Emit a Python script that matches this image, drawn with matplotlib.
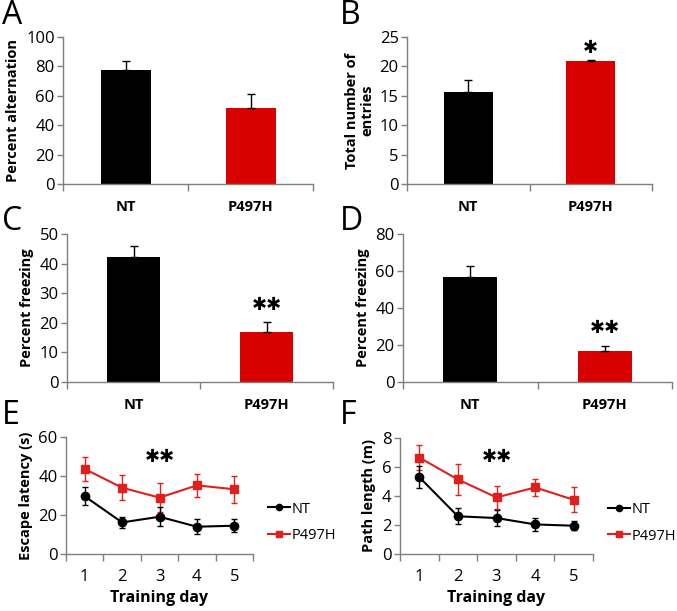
import matplotlib
matplotlib.use("Agg")
import matplotlib.pyplot as plt
from matplotlib.lines import Line2D
import numpy as np

plt.rcParams['font.family'] = ['Open Sans', 'DejaVu Sans']

groups = ["NT", "P497H"]

# Panel A
alt_mean = [77.5, 52.0]
alt_err = [6.0, 9.5]
# Panel B
entries_mean = [15.7, 20.9]
entries_err = [2.0, 0.2]
# Panel C
freeze_c_mean = [42.3, 17.0]
freeze_c_err = [3.6, 3.3]
# Panel D
freeze_d_mean = [57.0, 16.5]
freeze_d_err = [5.5, 3.2]

days = [1, 2, 3, 4, 5]
# Panel E
lat_nt = [29.6, 16.2, 19.1, 14.0, 14.5]
lat_nt_err = [4.6, 3.0, 4.8, 3.8, 3.3]
lat_p = [43.6, 34.0, 28.9, 35.2, 33.2]
lat_p_err = [6.0, 6.3, 7.5, 6.0, 6.8]
# Panel F
path_nt = [5.3, 2.6, 2.48, 2.04, 1.95]
path_nt_err = [0.75, 0.55, 0.55, 0.45, 0.3]
path_p = [6.65, 5.14, 3.9, 4.59, 3.74]
path_p_err = [0.85, 1.1, 0.8, 0.57, 0.85]

BLACK = '#000000'
RED = '#d90000'
LRED = '#e0201e'
SPINE = '#7f7f7f'

W, H = 677, 611
fig = plt.figure(figsize=(W / 100, H / 100), dpi=100)
PX = 0.72  # points per pixel at dpi 100


def rect(l, r, top, bot):
    return [l / W, 1 - bot / H, (r - l) / W, (bot - top) / H]


def style(ax):
    for s in ['top', 'right']:
        ax.spines[s].set_visible(False)
    for s in ['left', 'bottom']:
        ax.spines[s].set_color(SPINE)
        ax.spines[s].set_linewidth(1.0)
    ax.tick_params(axis='both', direction='out', color=SPINE, length=4, width=1.0,
                   labelsize=12, pad=2)


def below(ax, x, px, s, **kw):
    ax.annotate(s, xy=(x, 0), xycoords=('data', 'axes fraction'),
                xytext=(0, -px * PX), textcoords='offset points',
                ha='center', va='center', **kw)


def stars(ax, x, y, n):
    ax.text(x, y, '\u2731' * n, ha='center', va='center', fontsize=13,
            family=['DejaVu Sans'], color='black')


def bar_panel(rc, means, errs, ymax, ystep, ylabel, nstar=0, star_y=None):
    ax = fig.add_axes(rect(*rc))
    style(ax)
    x = np.arange(len(groups))
    ax.bar(x, means, width=0.4, color=[BLACK, RED], edgecolor='none', zorder=2)
    ax.errorbar(x, means, yerr=[np.zeros(len(errs)), errs], fmt='none', ecolor='black',
                elinewidth=1.0, capsize=3, capthick=1.0, zorder=3)
    ax.set_xlim(-0.5, 1.5)
    ax.set_ylim(0, ymax)
    ax.set_yticks(np.arange(0, ymax + 0.001, ystep))
    ax.set_xticks([-0.5, 0.5, 1.5])
    ax.set_xticklabels([])
    ax.tick_params(axis='x', length=5)
    for xi, g in zip(x, groups):
        below(ax, xi, 23, g, fontsize=10.5, fontweight='bold')
    ax.set_ylabel(ylabel, fontsize=10.5, fontweight='bold', labelpad=4, linespacing=1.05)
    if nstar:
        stars(ax, 1, star_y, nstar)
    return ax


def label(letter, x, y):
    fig.text(x / W, 1 - y / H, letter, fontsize=23, ha='left', va='center')


bar_panel((63, 313, 37, 184), alt_mean, alt_err, 100, 20, 'Percent alternation')
bar_panel((407, 652, 37, 184), entries_mean, entries_err, 25, 5, 'Total number of\nentries',
          1, 23.1)
bar_panel((67, 333, 234, 382), freeze_c_mean, freeze_c_err, 50, 10, 'Percent freezing',
          2, 26.0)
bar_panel((403, 672, 234, 382), freeze_d_mean, freeze_d_err, 80, 20, 'Percent freezing',
          2, 29.2)


def line_panel(rc, nt, nt_err, p, p_err, ymax, ystep, ylabel, star_y, leg_x):
    ax = fig.add_axes(rect(*rc))
    style(ax)
    ax.errorbar(days, nt, yerr=nt_err, color=BLACK, marker='o', markersize=6, lw=1.5,
                elinewidth=1.0, capsize=2.5, capthick=1.0, zorder=3)
    ax.errorbar(days, p, yerr=p_err, color=LRED, marker='s', markersize=6, lw=1.5,
                elinewidth=1.0, capsize=2.5, capthick=1.0, zorder=2)
    ax.set_xlim(0.5, 5.5)
    ax.set_ylim(0, ymax)
    ax.set_yticks(np.arange(0, ymax + 0.001, ystep))
    ax.set_xticks(np.arange(0.5, 5.6, 1.0))
    ax.set_xticklabels([])
    ax.tick_params(axis='x', length=5)
    for d in days:
        below(ax, d, 23, str(d), fontsize=12)
    ax.annotate('Training day', xy=(0.5, 0), xycoords='axes fraction',
                xytext=(0, -44 * PX), textcoords='offset points', ha='center', va='center',
                fontsize=11.5, fontweight='bold')
    ax.set_ylabel(ylabel, fontsize=10.5, fontweight='bold', labelpad=4)
    stars(ax, 3, star_y, 2)
    handles = [Line2D([], [], color=BLACK, marker='o', markersize=4.5, lw=1.5),
               Line2D([], [], color=LRED, marker='s', markersize=4.5, lw=1.5)]
    ax.legend(handles, ['NT', 'P497H'], loc='center left', bbox_to_anchor=(leg_x, 0.27),
              frameon=False, fontsize=10.5, handlelength=1.5, handletextpad=0.1,
              labelspacing=0.8, borderaxespad=0, borderpad=0)
    return ax


line_panel((66, 253, 437, 554), lat_nt, lat_nt_err, lat_p, lat_p_err, 60, 20,
           'Escape latency (s)', 50, 1.08)
line_panel((400, 593, 438, 554), path_nt, path_nt_err, path_p, path_p_err, 8, 2,
           'Path length (m)', 6.7, 1.08)

label('A', 2, 15)
label('B', 340, 15)
label('C', 2, 222)
label('D', 340, 222)
label('E', 2, 416)
label('F', 340, 416)

fig.savefig('out.png', dpi=100)
